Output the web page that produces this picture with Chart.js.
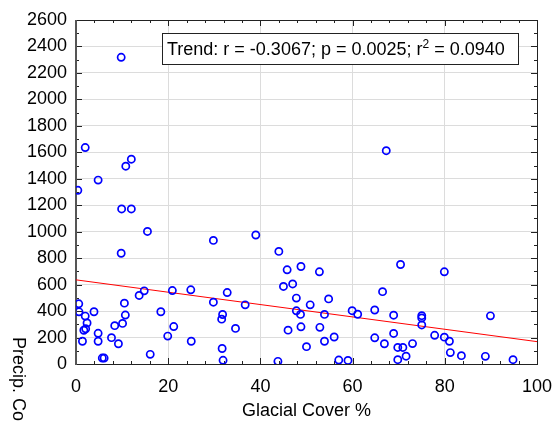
<!DOCTYPE html>
<html lang="en">
<head>
    <meta charset="UTF-8">
    <title>Precip. vs Glacial Cover</title>
    <script src="https://cdn.jsdelivr.net/npm/chart.js@4.4.0/dist/chart.umd.min.js"></script>
    <style>
        html, body {
            margin: 0;
            padding: 0;
            background: #fff;
        }
        #wrap {
            width: 554px;
            height: 423px;
        }
    </style>
</head>
<body>
    <div id="wrap"><canvas id="chart" width="554" height="423"></canvas></div>

    <script>
        // Glacial cover (%) and precipitation values
        const glacialCover = [
            0.4, 2, 4.8, 9.8, 10.8, 12, 9.9, 12, 15.5, 9.8, 29.8, 39,
            0.6, 0.65, 2, 2.4, 1.7, 2.1, 1.4, 3.9, 4.8, 4.8, 5.7, 6.1,
            7.7, 9.2, 8.4, 10.1, 10.7, 10.5, 13.7, 14.8, 16.1, 18.4, 19.9, 21.2,
            20.9, 24.9, 25, 29.8, 32.8, 36.7, 31.8, 31.6, 34.6, 31.7, 31.9, 43.8,
            44, 45.8, 48.8, 52.8, 45, 47, 47.8, 50.8, 54.8, 47.8, 48.7, 53.9,
            46, 48.8, 52.9, 50, 53.9, 56, 57, 59, 59.9, 61.1, 64.8, 66.5,
            67.3, 70.4, 68.9, 68.9, 64.8, 66.9, 69.8, 70.9, 69.8, 71.6, 73, 75,
            75, 75, 77.8, 79.9, 81, 81.2, 83.6, 88.8, 94.8, 89.9, 79.9
        ];
        const precip = [
            1313, 1636, 1390, 2318, 1495, 1548, 1172, 1172, 1002, 837, 934, 975,
            455, 394, 362, 310, 255, 266, 172, 395, 232, 172, 45, 45,
            199, 153, 290, 307, 370, 460, 518, 553, 73, 395, 211, 283,
            555, 561, 172, 467, 540, 447, 374, 339, 269, 117, 28, 20,
            851, 712, 737, 697, 586, 605, 498, 447, 492, 402, 375, 375,
            256, 281, 277, 131, 172, 204, 30, 27, 403, 376, 408, 547,
            1612, 752, 369, 231, 198, 153, 125, 125, 33, 59, 154, 365,
            348, 295, 217, 203, 172, 86, 63, 58, 33, 364, 697
        ];

        // Trend line end points
        const trendX = [0, 100];
        const trendY = [636, 169];

        const trendText = ['Trend: r = -0.3067; p = 0.0025; r', '2', ' = 0.0940'];
        const xTitle = 'Glacial Cover %';
        const yTitle = 'Precip. Co';

        const FONT = '"Liberation Sans", Arial, sans-serif';

        // Box frame with inner major/minor ticks on all four sides
        const frameTicks = {
            id: 'frameTicks',
            beforeDatasetsDraw(chart) {
                const { ctx, chartArea: a, scales: { x, y } } = chart;
                ctx.save();
                ctx.strokeStyle = '#222';
                ctx.lineWidth = 1;
                ctx.beginPath();
                for (let v = 0; v <= 100; v += 4) {
                    const px = Math.round(x.getPixelForValue(v)) + 0.5;
                    const len = v % 20 === 0 ? 6 : 3;
                    ctx.moveTo(px, a.bottom); ctx.lineTo(px, a.bottom - len);
                    ctx.moveTo(px, a.top); ctx.lineTo(px, a.top + len);
                }
                for (let v = 0; v <= 2600; v += 100) {
                    const py = Math.round(y.getPixelForValue(v)) + 0.5;
                    const len = v % 200 === 0 ? 6 : 3;
                    ctx.moveTo(a.left, py); ctx.lineTo(a.left + len, py);
                    ctx.moveTo(a.right, py); ctx.lineTo(a.right - len, py);
                }
                ctx.stroke();

                ctx.strokeRect(Math.round(a.left) + 0.5, Math.round(a.top) + 0.5,
                    Math.round(a.right - a.left), Math.round(a.bottom - a.top));
                ctx.strokeStyle = '#555';
                ctx.lineWidth = 2;
                ctx.beginPath();
                ctx.moveTo(Math.round(a.left), a.top);
                ctx.lineTo(Math.round(a.left), a.bottom + 1);
                ctx.stroke();
                ctx.restore();
            },
            afterDraw(chart) {
                const { ctx, chartArea: a } = chart;
                ctx.save();

                // trend statistics box
                const bx = 162, by = 33, bw = 356, bh = 31;
                ctx.fillStyle = '#fff';
                ctx.fillRect(bx, by, bw, bh);
                ctx.strokeStyle = '#222';
                ctx.lineWidth = 1;
                ctx.strokeRect(bx + 0.5, by + 0.5, bw, bh);
                ctx.fillStyle = '#000';
                ctx.textBaseline = 'alphabetic';
                ctx.font = '18px ' + FONT;
                let tx = bx + 5;
                const base = by + 22;
                ctx.fillText(trendText[0], tx, base);
                tx += ctx.measureText(trendText[0]).width;
                ctx.font = '12px ' + FONT;
                ctx.fillText(trendText[1], tx, base - 7);
                tx += ctx.measureText(trendText[1]).width;
                ctx.font = '18px ' + FONT;
                ctx.fillText(trendText[2], tx, base);

                // axis titles
                ctx.textAlign = 'center';
                ctx.textBaseline = 'middle';
                ctx.fillText(xTitle, (a.left + a.right) / 2, 411);

                ctx.translate(18, 337);
                ctx.rotate(Math.PI / 2);
                ctx.textAlign = 'left';
                ctx.fillText(yTitle, 0, 0);
                ctx.restore();
            }
        };

        const ctx = document.getElementById('chart').getContext('2d');

        new Chart(ctx, {
            type: 'scatter',
            data: {
                datasets: [
                    {
                        type: 'line',
                        data: trendX.map((v, i) => ({ x: v, y: trendY[i] })),
                        borderColor: '#ff0000',
                        borderWidth: 1,
                        pointRadius: 0,
                        fill: false,
                        order: 2
                    },
                    {
                        data: glacialCover.map((v, i) => ({ x: v, y: precip[i] })),
                        pointStyle: 'circle',
                        pointRadius: 3.6,
                        borderWidth: 1.7,
                        borderColor: '#0000ff',
                        backgroundColor: 'rgba(0,0,0,0)',
                        order: 1
                    }
                ]
            },
            options: {
                responsive: false,
                animation: false,
                devicePixelRatio: 1,
                layout: {
                    padding: { top: 20, right: 17, left: 0, bottom: 0 }
                },
                plugins: {
                    legend: { display: false },
                    tooltip: { enabled: false }
                },
                scales: {
                    x: {
                        type: 'linear',
                        min: 0,
                        max: 100,
                        afterFit: (s) => {
                            s.height = 59;
                            s.paddingLeft = 0;
                            s.paddingRight = 0;
                        },
                        grid: { color: '#dcdcdc', lineWidth: 1, drawTicks: false },
                        border: { display: false },
                        ticks: {
                            stepSize: 20,
                            padding: 12,
                            color: '#000',
                            font: { family: FONT, size: 18 },
                            callback: (v) => String(v)
                        }
                    },
                    y: {
                        type: 'linear',
                        min: 0,
                        max: 2600,
                        afterFit: (s) => {
                            s.width = 76;
                            s.paddingTop = 0;
                            s.paddingBottom = 0;
                        },
                        grid: { color: '#dcdcdc', lineWidth: 1, drawTicks: false },
                        border: { display: false },
                        ticks: {
                            stepSize: 200,
                            padding: 9,
                            color: '#000',
                            font: { family: FONT, size: 18 },
                            callback: (v) => String(v)
                        }
                    }
                }
            },
            plugins: [frameTicks]
        });
    </script>
</body>
</html>
